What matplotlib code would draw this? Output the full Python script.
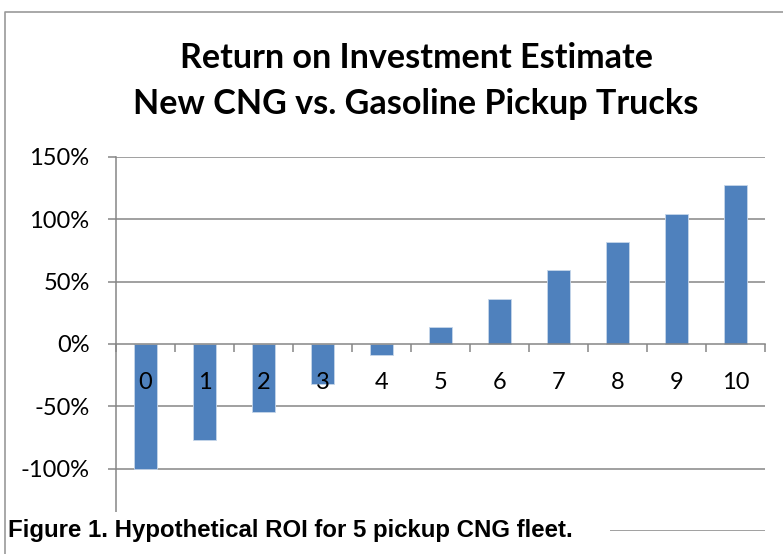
import numpy as np
import matplotlib.pyplot as plt
from matplotlib.lines import Line2D
from matplotlib.patches import Rectangle
from matplotlib.ticker import FixedLocator, NullFormatter, FixedFormatter

# data
years = ["0", "1", "2", "3", "4", "5", "6", "7", "8", "9", "10"]
roi_pct = [-100.0, -77.3, -54.5, -31.8, -9.1, 13.6, 36.4, 59.1, 81.8, 104.5, 127.3]
y_ticks = [-100, -50, 0, 50, 100, 150]
y_labels = ["-100%", "-50%", "0%", "50%", "100%", "150%"]
title_lines = ["Return on Investment Estimate", "New CNG vs. Gasoline Pickup Trucks"]
caption = "Figure 1. Hypothetical ROI for 5 pickup CNG fleet."

W, H = 783, 554
BAR = "#4F81BD"
GRID = "#868686"

fig = plt.figure(figsize=(W / 100, H / 100), dpi=100)
ax = fig.add_axes([116 / W, 1 - 531 / H, 649 / W, 374 / H])

x = np.arange(len(years))
ax.bar(x, roi_pct, width=0.4, color=BAR, edgecolor="#c6d6ea", linewidth=0.6, zorder=2)

ax.set_xlim(-0.5, len(years) - 0.5)
ax.set_ylim(-150, 150)

# horizontal gridlines
for v in [-150, -100, -50, 50, 100, 150]:
    ax.axhline(v, color=GRID, lw=1.1, zorder=1)

# y axis
ax.spines["left"].set_color(GRID)
ax.spines["left"].set_linewidth(1.1)
ax.spines["top"].set_visible(False)
ax.spines["right"].set_visible(False)
ax.yaxis.set_major_locator(FixedLocator(y_ticks))
ax.yaxis.set_major_formatter(FixedFormatter(y_labels))
ax.tick_params(axis="y", direction="out", length=6, width=1.1, color=GRID,
               pad=13, labelsize=17, labelcolor="black")

# category axis sits on the zero line, labels drawn over the bars
ax.spines["bottom"].set_position(("data", 0))
ax.spines["bottom"].set_color(GRID)
ax.spines["bottom"].set_linewidth(1.1)
ax.spines["bottom"].set_zorder(4)
ax.xaxis.set_zorder(5)
ax.xaxis.set_major_locator(FixedLocator(np.arange(-0.5, len(years), 1.0)))
ax.xaxis.set_major_formatter(NullFormatter())
ax.xaxis.set_minor_locator(FixedLocator(x))
ax.xaxis.set_minor_formatter(FixedFormatter(years))
ax.tick_params(axis="x", which="major", direction="out", length=6, width=1.1, color=GRID)
ax.tick_params(axis="x", which="minor", length=0, pad=20, labelsize=17, labelcolor="black")
for lab in ax.get_xticklabels(minor=True) + ax.get_yticklabels():
    lab.set_family(["Lato", "DejaVu Sans"])

# title
for i, line in enumerate(title_lines):
    fig.text(416 / W, 1 - (58 + 46 * i) / H, line, ha="center", va="center",
             fontsize=24.6, fontweight="bold", family=["Lato", "DejaVu Sans"])

# outer frame (runs off the right and bottom edges)
fig.add_artist(Line2D([5 / W, 5 / W, 1.01], [-0.01, 1 - 12 / H, 1 - 12 / H],
                      transform=fig.transFigure, color="#9a9a9a", lw=1.2))

# caption box over the bottom of the chart
fig.add_artist(Rectangle((7 / W, 0), 603 / W, (H - 512) / H, transform=fig.transFigure,
                         facecolor="white", edgecolor="none", zorder=5))
fig.text(8 / W, 1 - 531 / H, caption, ha="left", va="center", fontsize=17.3,
         fontweight="bold", family=["Liberation Sans", "DejaVu Sans"], zorder=6)

fig.savefig("out.png", dpi=100)
